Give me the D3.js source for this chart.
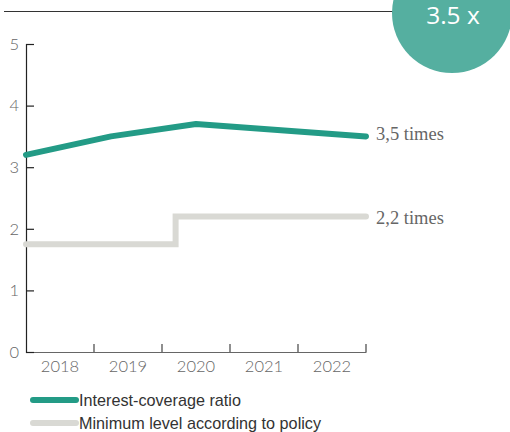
<!DOCTYPE html>
<html>
<head>
<meta charset="utf-8">
<script src="https://cdn.jsdelivr.net/npm/d3@7/dist/d3.min.js"></script>
<style>
  html, body { margin: 0; padding: 0; background: #fff; }
  svg { display: block; }
</style>
</head>
<body>
<svg id="chart" width="510" height="432"></svg>
<script>
// Interest-coverage ratio vs. the policy minimum
const years = [2018, 2019, 2020, 2021, 2022];
const coverage = [3.2, 3.5, 3.7, 3.6, 3.5];
// Policy minimum changed during 2019 (step)
const policyYears = [2018, 2019.76, 2022];
const policyLevel = [1.75, 2.2, 2.2];
const yTicks = [0, 1, 2, 3, 4, 5];
const endLabels = ["3,5 times", "2,2 times"];
const legendLabels = ["Interest-coverage ratio", "Minimum level according to policy"];
const badgeText = "3.5 x";

const teal = "#239b86";
const grey = "#d9d9d4";
const axisColor = "#222";
const tickText = "#666";

const svg = d3.select("#chart");

const x = d3.scaleLinear().domain([2018, 2022]).range([26, 366]);
const xBand = d3.scaleBand().domain(years).range([26, 366]).padding(0);
const y = d3.scaleLinear().domain([0, 5]).range([352, 44]);

// Header rule and badge
svg.append("line")
  .attr("x1", 4).attr("x2", 400).attr("y1", 11.5).attr("y2", 11.5)
  .attr("stroke", "#333").attr("stroke-width", 1);
svg.append("circle")
  .attr("cx", 452).attr("cy", 13).attr("r", 60)
  .attr("fill", "#55afa0");
svg.append("text")
  .attr("x", 453).attr("y", 24)
  .attr("text-anchor", "middle")
  .attr("font-family", "Open Sans, sans-serif")
  .attr("font-size", 24.5)
  .attr("fill", "#fff")
  .text(badgeText);

// X axis: labels centred in each year band, ticks on band edges
const xAxis = svg.append("g")
  .attr("transform", "translate(0,352)")
  .call(d3.axisBottom(xBand).tickSize(0).tickPadding(8));
xAxis.select(".domain").attr("stroke", "#666").attr("stroke-width", 1.2);
xAxis.selectAll(".tick text")
  .attr("font-family", "Lato, sans-serif").attr("font-weight", 300)
  .attr("font-size", 16.5).attr("fill", tickText);
xAxis.selectAll(".edge")
  .data(years)
  .join("line")
  .attr("class", "edge")
  .attr("x1", d => xBand(d) + xBand.bandwidth())
  .attr("x2", d => xBand(d) + xBand.bandwidth())
  .attr("y1", 0).attr("y2", -8)
  .attr("stroke", "#444").attr("stroke-width", 1.2);

// Y axis (ticks point inward)
const yAxis = svg.append("g")
  .attr("transform", "translate(26,0)")
  .call(d3.axisLeft(y).tickValues(yTicks).tickSize(-8).tickPadding(7).tickFormat(d3.format("d")));
yAxis.select(".domain").attr("stroke", axisColor).attr("stroke-width", 1.2);
yAxis.selectAll(".tick line").attr("stroke", axisColor).attr("stroke-width", 1.2);
yAxis.selectAll(".tick text")
  .attr("font-family", "Lato, sans-serif").attr("font-weight", 300)
  .attr("font-size", 16.5).attr("fill", tickText);

// Policy minimum (step line)
const policyData = policyYears.map((yr, i) => [yr, policyLevel[i]]);
svg.append("path")
  .datum(policyData)
  .attr("fill", "none")
  .attr("stroke", grey)
  .attr("stroke-width", 6)
  .attr("stroke-linecap", "round")
  .attr("d", d3.line().x(d => x(d[0])).y(d => y(d[1])).curve(d3.curveStepAfter));

// Interest-coverage ratio
const coverageData = years.map((yr, i) => [yr, coverage[i]]);
svg.append("path")
  .datum(coverageData)
  .attr("fill", "none")
  .attr("stroke", teal)
  .attr("stroke-width", 6)
  .attr("stroke-linecap", "round")
  .attr("stroke-linejoin", "round")
  .attr("d", d3.line().x(d => x(d[0])).y(d => y(d[1])));

// End labels, placed beside the last point of each line
const endValues = [coverage[coverage.length - 1], policyLevel[policyLevel.length - 1]];
const endShift = [-3, 1];
svg.selectAll(".end-label")
  .data(endLabels)
  .join("text")
  .attr("class", "end-label")
  .attr("x", x(2022) + 10)
  .attr("y", (d, i) => y(endValues[i]) + endShift[i])
  .attr("dy", "0.35em")
  .attr("font-family", "Liberation Serif, serif")
  .attr("font-size", 18.5)
  .attr("fill", "#666")
  .text(d => d);

// Legend
const legend = svg.append("g");
const legendColors = [teal, grey];
legendLabels.forEach((label, i) => {
  const ly = 400 + i * 23;
  legend.append("line")
    .attr("x1", 33).attr("x2", 76).attr("y1", ly).attr("y2", ly)
    .attr("stroke", legendColors[i]).attr("stroke-width", 6)
    .attr("stroke-linecap", "round");
  legend.append("text")
    .attr("x", 79).attr("y", ly).attr("dy", "0.35em")
    .attr("font-family", "Liberation Sans, Arial, sans-serif")
    .attr("font-size", 16.2)
    .attr("fill", "#333")
    .text(label);
});
</script>
</body>
</html>
